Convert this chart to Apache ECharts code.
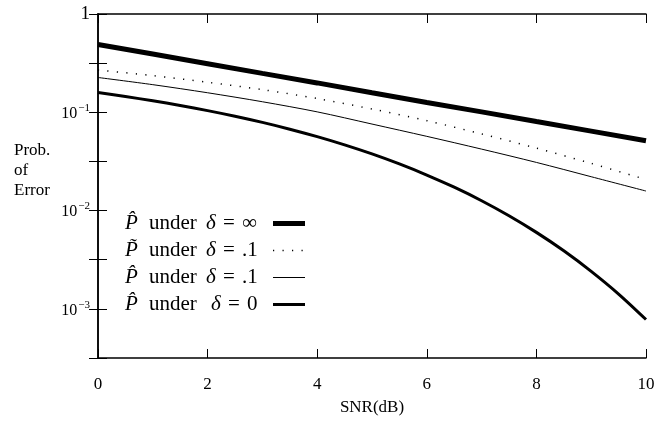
<!DOCTYPE html>
<html>
<head>
<meta charset="utf-8">
<script src="https://cdn.jsdelivr.net/npm/echarts@6/dist/echarts.min.js"></script>
<style>html,body{margin:0;padding:0;background:#fff}#c{width:664px;height:421px}</style>
</head>
<body>
<div id="c"></div>
<script>
// SNR in dB
const snrCoarse = [0, 1, 2, 3, 4, 5, 6, 7, 8, 9, 10];
const snrFine = [0, 0.5, 1, 1.5, 2, 2.5, 3, 3.5, 4, 4.5, 5, 5.5, 6, 6.5, 7, 7.5, 8, 8.5, 9, 9.5, 10];
// P-hat under delta = infinity
const pHatInf = [0.490, 0.391, 0.312, 0.249, 0.199, 0.158, 0.126, 0.101, 0.0805, 0.0643, 0.0513];
// P-tilde under delta = .1 (dotted)
const pTilde01 = [0.269, 0.236, 0.202, 0.170, 0.138, 0.108, 0.0822, 0.0603, 0.0432, 0.0302, 0.0207];
// P-hat under delta = .1 (thin)
const pHat01 = [0.226, 0.191, 0.158, 0.128, 0.101, 0.0759, 0.0569, 0.0422, 0.0309, 0.0221, 0.0158];
// P-hat under delta = 0 (thick lower)
const pHat0 = [0.1587, 0.1447, 0.1309, 0.1173, 0.1040, 0.0912, 0.0789, 0.0673, 0.0565, 0.0466, 0.0377,
               0.0298, 0.0230, 0.01728, 0.0126, 0.00886, 0.0060, 0.00390, 0.00241, 0.001416, 0.00078];
const seriesNames = ['inf', 'tilde01', 'hat01', 'hat0'];
const legendLabels = [
  '{p|P\u0302}{u|under}{d|\u03b4}{e|=}{v|\u221e}',
  '{p|P\u0303}{u|under}{d|\u03b4}{e|=}{v|.1}',
  '{p|P\u0302}{u|under}{d|\u03b4}{e|=}{v|.1}',
  '{p|P\u0302}{u4|under}{d|\u03b4}{e|=}{v4|0}'
];
const xTicks = [0, 2, 4, 6, 8, 10];
const yLabelExps = [0, -1, -2, -3];

const FONT = 'Liberation Serif';
const pairs = (xs, ys) => xs.map((x, i) => [x, ys[i]]);

const chart = echarts.init(document.getElementById('c'), null, {renderer: 'canvas'});
const axisCommon = {
  axisLine: {show: true, lineStyle: {color: '#000', width: 1.5}},
  axisTick: {show: true, inside: true, length: 9, lineStyle: {color: '#000', width: 1}},
  splitLine: {show: false}
};
const yFmt = function (v) {
  const e = Math.log10(v);
  const r = Math.round(e);
  if (Math.abs(e - r) > 0.01) return '';
  if (!yLabelExps.includes(r)) return '';
  if (r === 0) return '{one|1}';
  return '{b|10}{s|\u2212' + (-r) + '}';
};
const yRich = {
  one: {fontFamily: FONT, fontSize: 19, color: '#000'},
  b: {fontFamily: FONT, fontSize: 16, color: '#000', verticalAlign: 'bottom'},
  s: {fontFamily: FONT, fontSize: 11, color: '#000', verticalAlign: 'bottom', padding: [0, 0, 8, 1]}
};
const tok = (w, extra) => Object.assign({fontFamily: FONT, fontSize: 21, color: '#000', width: w, align: 'left', lineHeight: 20}, extra || {});
const option = {
  backgroundColor: '#fff',
  animation: false,
  grid: {left: 98, right: 18, top: 14, bottom: 57},
  xAxis: [
    Object.assign({}, axisCommon, {
      type: 'value', min: 0, max: 10, interval: 2, position: 'bottom',
      name: 'SNR(dB)', nameLocation: 'middle', nameGap: 41,
      nameTextStyle: {fontFamily: FONT, fontSize: 17, color: '#000'},
      axisLabel: {fontFamily: FONT, fontSize: 17, color: '#000', margin: 18,
        formatter: v => xTicks.includes(v) ? String(v) : ''}
    }),
    Object.assign({}, axisCommon, {
      type: 'value', min: 0, max: 10, interval: 2, position: 'top',
      axisLabel: {show: false}
    })
  ],
  yAxis: [
    Object.assign({}, axisCommon, {
      type: 'log', logBase: 10, min: Math.pow(10, -3.5), max: 1, interval: 0.5, position: 'left',
      axisLabel: {margin: 8, formatter: yFmt, rich: yRich}
    }),
    Object.assign({}, axisCommon, {
      type: 'log', logBase: 10, min: Math.pow(10, -3.5), max: 1, interval: 0.5, position: 'right',
      axisLabel: {show: false}
    })
  ],
  legend: {
    orient: 'vertical', left: 120, top: 208, itemGap: 6,
    itemWidth: 32, itemHeight: 14, align: 'right',
    data: seriesNames,
    formatter: name => legendLabels[seriesNames.indexOf(name)],
    lineStyle: {width: 'inherit'},
    itemStyle: {opacity: 0},
    textStyle: {
      fontFamily: FONT, fontSize: 21, color: '#000', lineHeight: 20,
      rich: {
        p: tok(24, {fontStyle: 'italic'}),
        u: tok(57), u4: tok(62),
        d: tok(17, {fontStyle: 'italic'}),
        e: tok(19),
        v: tok(26), v4: tok(21)
      }
    },
    selectedMode: false
  },
  graphic: [{
    type: 'text', left: 14, top: 141,
    style: {text: 'Prob.\nof\nError', fontFamily: FONT, fontSize: 17, fill: '#000',
      align: 'center', lineHeight: 20, width: 44}
  }],
  series: [
    {name: seriesNames[0], type: 'line', data: pairs(snrCoarse, pHatInf), showSymbol: false, symbol: 'none',
      lineStyle: {color: '#000', width: 5}, itemStyle: {color: '#000'}},
    {name: seriesNames[1], type: 'line', data: pairs(snrCoarse, pTilde01), showSymbol: false, symbol: 'none', smooth: 0.3,
      lineStyle: {color: '#000', width: 1.5, type: [1.2, 8.3]}, itemStyle: {color: '#000'}},
    {name: seriesNames[2], type: 'line', data: pairs(snrCoarse, pHat01), showSymbol: false, symbol: 'none', smooth: 0.3,
      lineStyle: {color: '#000', width: 1}, itemStyle: {color: '#000'}},
    {name: seriesNames[3], type: 'line', data: pairs(snrFine, pHat0), showSymbol: false, symbol: 'none', smooth: 0.3,
      lineStyle: {color: '#000', width: 3}, itemStyle: {color: '#000'}}
  ]
};
chart.setOption(option);
</script>
</body>
</html>
